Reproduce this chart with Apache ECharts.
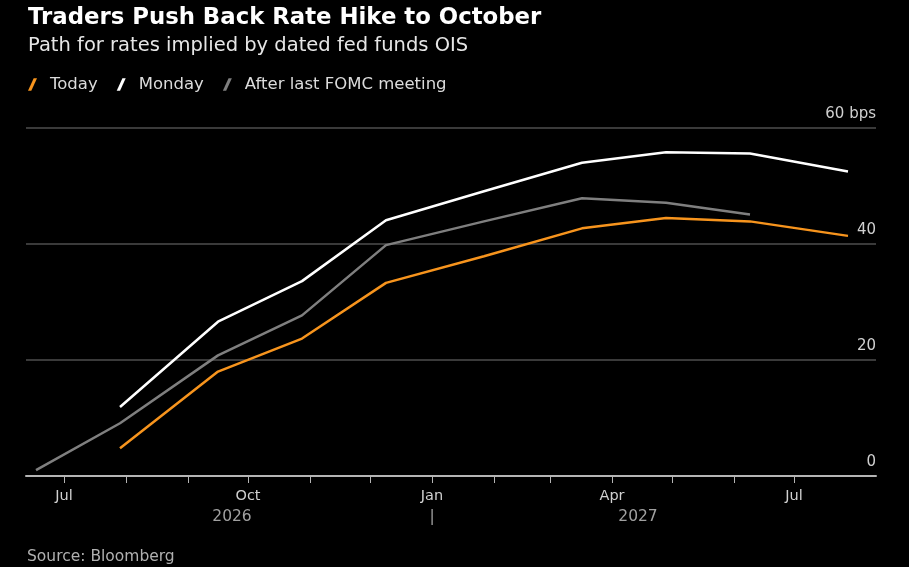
<!DOCTYPE html>
<html>
<head>
<meta charset="utf-8">
<script src="https://cdn.jsdelivr.net/npm/echarts@6/dist/echarts.min.js"></script>
<style>
  html, body { margin: 0; padding: 0; background: #000; }
  #chart { width: 909px; height: 567px; }
</style>
</head>
<body>
<div id="chart"></div>
<script>
// FOMC meeting dates the OIS path is priced on
const dates = ['2026-06-17', '2026-07-29', '2026-09-16', '2026-10-28', '2026-12-09', '2027-01-27', '2027-03-17', '2027-04-28', '2027-06-09', '2027-07-28']
const today = [null, 4.8, 18.0, 23.7, 33.3, 37.9, 42.7, 44.5, 43.9, 41.4]
const monday = [null, 11.9, 26.6, 33.6, 44.1, 49.1, 54.0, 55.8, 55.6, 52.5]
const afterFomc = [1.0, 9.1, 20.8, 27.7, 39.8, 43.9, 47.9, 47.1, 45.1, null]

const monthTicks = ['2026-07-01', '2026-08-01', '2026-09-01', '2026-10-01', '2026-11-01', '2026-12-01', '2027-01-01', '2027-02-01', '2027-03-01', '2027-04-01', '2027-05-01', '2027-06-01', '2027-07-01']
const quarterDates = ['2026-07-01', '2026-10-01', '2027-01-01', '2027-04-01', '2027-07-01']
const quarterTexts = ['Jul', 'Oct', 'Jan', 'Apr', 'Jul']
const yearDates = ['2026-09-23', '2027-01-01', '2027-04-14']
const yearTexts = ['2026', '|', '2027']
const xMin = '2026-06-12'
const xMax = '2027-08-11'

const t = (s) => {
	const [y, m, d] = s.split('-').map(Number)
	return new Date(y, m - 1, d).getTime()
}

const toSeries = (vals) => vals.map((v, i) => [t(dates[i]), v])

const FONT = 'DejaVu Sans'
const slash = 'path://M0,13 L6,0 L9.5,0 L3.5,13 Z'

const chart = echarts.init(document.getElementById('chart'))

const option = {
	backgroundColor: '#000',
	animation: false,
	title: [
		{
			text: 'Traders Push Back Rate Hike to October',
			left: 23,
			top: 2,
			textStyle: { fontFamily: FONT, fontSize: 22.8, fontWeight: 'bold', color: '#fff' }
		},
		{
			text: 'Path for rates implied by dated fed funds OIS',
			left: 23,
			top: 31,
			textStyle: { fontFamily: FONT, fontSize: 19.5, fontWeight: 'normal', color: '#e6e6e6' }
		},
		{
			text: 'Source: Bloomberg',
			left: 22,
			top: 544,
			textStyle: { fontFamily: FONT, fontSize: 15.5, fontWeight: 'normal', color: '#b0b0b0' }
		}
	],
	legend: {
		left: 23,
		top: 71,
		itemWidth: 9,
		itemHeight: 13,
		itemGap: 19,
		textStyle: { fontFamily: FONT, fontSize: 16.5, color: '#dcdcdc', padding: [0, 0, 0, 8] },
		data: [
			{ name: 'Today', icon: slash },
			{ name: 'Monday', icon: slash },
			{ name: 'After last FOMC meeting', icon: slash }
		]
	},
	grid: {
		left: 26,
		right: 33,
		top: 128,
		bottom: 91,
		outerBoundsMode: 'none'
	},
	xAxis: [
		{
			type: 'value',
			min: t(xMin),
			max: t(xMax),
			splitLine: { show: false },
			axisLine: { show: true, lineStyle: { color: '#b4b4b4', width: 2 } },
			axisTick: {
				show: true,
				length: 7,
				customValues: monthTicks.map(t),
				lineStyle: { color: '#b4b4b4', width: 1 }
			},
			axisLabel: {
				customValues: quarterDates.map(t),
				margin: 13,
				fontFamily: FONT,
				fontSize: 14.5,
				color: '#d0d0d0',
				formatter: (v) => {
					const i = quarterDates.map(t).indexOf(v)
					return i >= 0 ? quarterTexts[i] : ''
				}
			}
		},
		{
			type: 'value',
			position: 'bottom',
			min: t(xMin),
			max: t(xMax),
			gridIndex: 0,
			splitLine: { show: false },
			axisLine: { show: false },
			axisTick: { show: false },
			axisLabel: {
				customValues: yearDates.map(t),
				margin: 33,
				fontFamily: FONT,
				fontSize: 15.5,
				color: '#a0a0a0',
				formatter: (v) => {
					const i = yearDates.map(t).indexOf(v)
					return i >= 0 ? yearTexts[i] : ''
				}
			}
		}
	],
	yAxis: {
		type: 'value',
		position: 'right',
		min: 0,
		max: 60,
		interval: 20,
		axisLine: { show: false },
		axisTick: { show: false },
		splitLine: { lineStyle: { color: '#3a3a3a', width: 2 } },
		axisLabel: {
			inside: true,
			margin: 0,
			verticalAlign: 'bottom',
			padding: [0, 0, 6, 0],
			fontFamily: FONT,
			fontSize: 15,
			color: '#d0d0d0',
			formatter: (v) => (v === 60 ? '60 bps' : v === 0 ? '0' : String(v))
		}
	},
	series: [
		{
			name: 'After last FOMC meeting',
			type: 'line',
			data: toSeries(afterFomc),
			symbol: 'none',
			lineStyle: { color: '#7f7f7f', width: 2.5 },
			itemStyle: { color: '#7f7f7f' }
		},
		{
			name: 'Monday',
			type: 'line',
			data: toSeries(monday),
			symbol: 'none',
			lineStyle: { color: '#ffffff', width: 2.5 },
			itemStyle: { color: '#ffffff' }
		},
		{
			name: 'Today',
			type: 'line',
			data: toSeries(today),
			symbol: 'none',
			lineStyle: { color: '#f7941d', width: 2.5 },
			itemStyle: { color: '#f7941d' }
		}
	]
}

chart.setOption(option)
</script>
</body>
</html>
